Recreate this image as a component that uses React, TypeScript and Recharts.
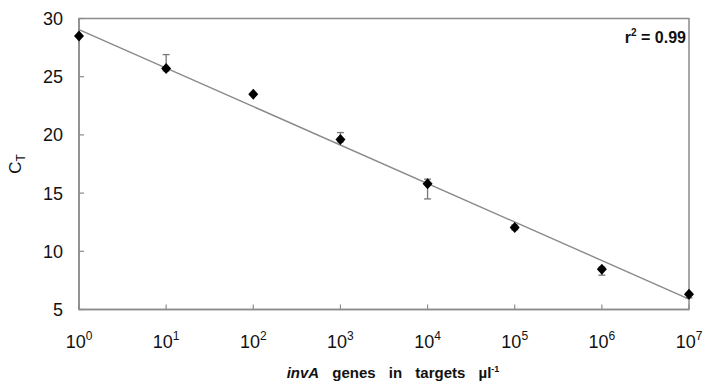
import {
  ComposedChart,
  Scatter,
  Line,
  XAxis,
  YAxis,
  ErrorBar,
  ReferenceArea,
  Label,
} from 'recharts';

// x positions are log10 of the target count (10^0 .. 10^7)
const exponents = [0, 1, 2, 3, 4, 5, 6, 7];
const ctMeans = [28.5, 25.7, 23.5, 19.6, 15.8, 12.05, 8.45, 6.3];
const errLow = [0, 0.2, 0.1, 0.2, 1.3, 0.2, 0.5, 0.3];
const errHigh = [0, 1.2, 0.1, 0.6, 0.4, 0.2, 0.2, 0.1];
const fitX = [0, 7];
const fitY = [29.05, 5.9];
const yTicks = [5, 10, 15, 20, 25, 30];
const r2Text = '0.99';

const points = exponents.map((x, i) => ({
  x,
  ct: ctMeans[i],
  err: [errLow[i], errHigh[i]],
}));
const fitLine = fitX.map((x, i) => ({ x, fit: fitY[i] }));

const AXIS = '#8c8c8c';
const FONT = '"Liberation Sans", Arial, sans-serif';

function XTick({ x, y, payload }: any) {
  return (
    <g>
      <line x1={x} x2={x} y1={y} y2={y - 5} stroke={AXIS} strokeWidth={1.2} />
      <text x={x} y={y + 38.5} textAnchor="middle" fontSize={18} fill="#111" fontFamily={FONT}>
        10
        <tspan dy={-8} fontSize={12}>{payload.value}</tspan>
      </text>
    </g>
  );
}

function YTick({ x, y, payload }: any) {
  return (
    <g>
      <line x1={x} x2={x + 5} y1={y} y2={y} stroke={AXIS} strokeWidth={1.2} />
      <text x={x - 16} y={y + 6.5} textAnchor="end" fontSize={18} fill="#111" fontFamily={FONT}>
        {payload.value}
      </text>
    </g>
  );
}

function Diamond({ cx, cy }: any) {
  return (
    <path
      d={`M${cx},${cy - 5.5} L${cx + 5},${cy} L${cx},${cy + 5.5} L${cx - 5},${cy} Z`}
      fill="#000"
    />
  );
}

export default function App() {
  return (
    <div style={{ position: 'absolute', left: 0, top: 0, background: '#fff' }}>
      <ComposedChart
        width={707}
        height={385}
        margin={{ top: 18.5, right: 18, left: 0, bottom: 0 }}
      >
        <XAxis
          dataKey="x"
          type="number"
          domain={[0, 7]}
          ticks={exponents}
          height={75.5}
          stroke={AXIS}
          strokeWidth={1.5}
          tickLine={false}
          tickSize={0}
          tickMargin={0}
          tick={<XTick />}
          interval={0}
        >
          <Label
            content={({ viewBox }: any) => {
              const cx = viewBox.x + viewBox.width / 2 + 9;
              return (
                <text
                  x={cx}
                  y={viewBox.y + 68.5}
                  textAnchor="middle"
                  fontSize={15}
                  fontWeight="bold"
                  fill="#111"
                  fontFamily={FONT}
                  style={{ wordSpacing: 9 }}
                >
                  <tspan fontStyle="italic">invA</tspan> genes in targets µl
                  <tspan dy={-6} fontSize={9}>-1</tspan>
                </text>
              );
            }}
          />
        </XAxis>
        <YAxis
          type="number"
          domain={[5, 30]}
          ticks={yTicks}
          width={79}
          stroke={AXIS}
          strokeWidth={1.5}
          tickLine={false}
          tickSize={0}
          tickMargin={0}
          tick={<YTick />}
          interval={0}
        />
        <ReferenceArea x1={0} x2={7} y1={5} y2={30} fill="none" stroke={AXIS} strokeWidth={1.5}>
          <Label
            content={({ viewBox }: any) => (
              <text
                x={viewBox.x + viewBox.width - 3}
                y={viewBox.y + 24}
                textAnchor="end"
                fontSize={16}
                fontWeight="bold"
                fill="#111"
                fontFamily={FONT}
              >
                r<tspan dy={-7} fontSize={10}>2</tspan>
                <tspan dy={7}> = {r2Text}</tspan>
              </text>
            )}
          />
        </ReferenceArea>
        <Line
          data={fitLine}
          dataKey="fit"
          type="linear"
          stroke="#8a8a8a"
          strokeWidth={1.4}
          dot={false}
          activeDot={false}
          isAnimationActive={false}
        />
        <Scatter data={points} dataKey="ct" shape={<Diamond />} isAnimationActive={false}>
          <ErrorBar dataKey="err" direction="y" width={3.5} stroke="#777" strokeWidth={1.3} />
        </Scatter>
        <g transform="translate(21, 164) rotate(-90)">
          <text x={0} y={0} textAnchor="middle" fontSize={17} fill="#111" fontFamily={FONT}>
            C
            <tspan dy={4} fontSize={12}>T</tspan>
          </text>
        </g>
      </ComposedChart>
    </div>
  );
}
